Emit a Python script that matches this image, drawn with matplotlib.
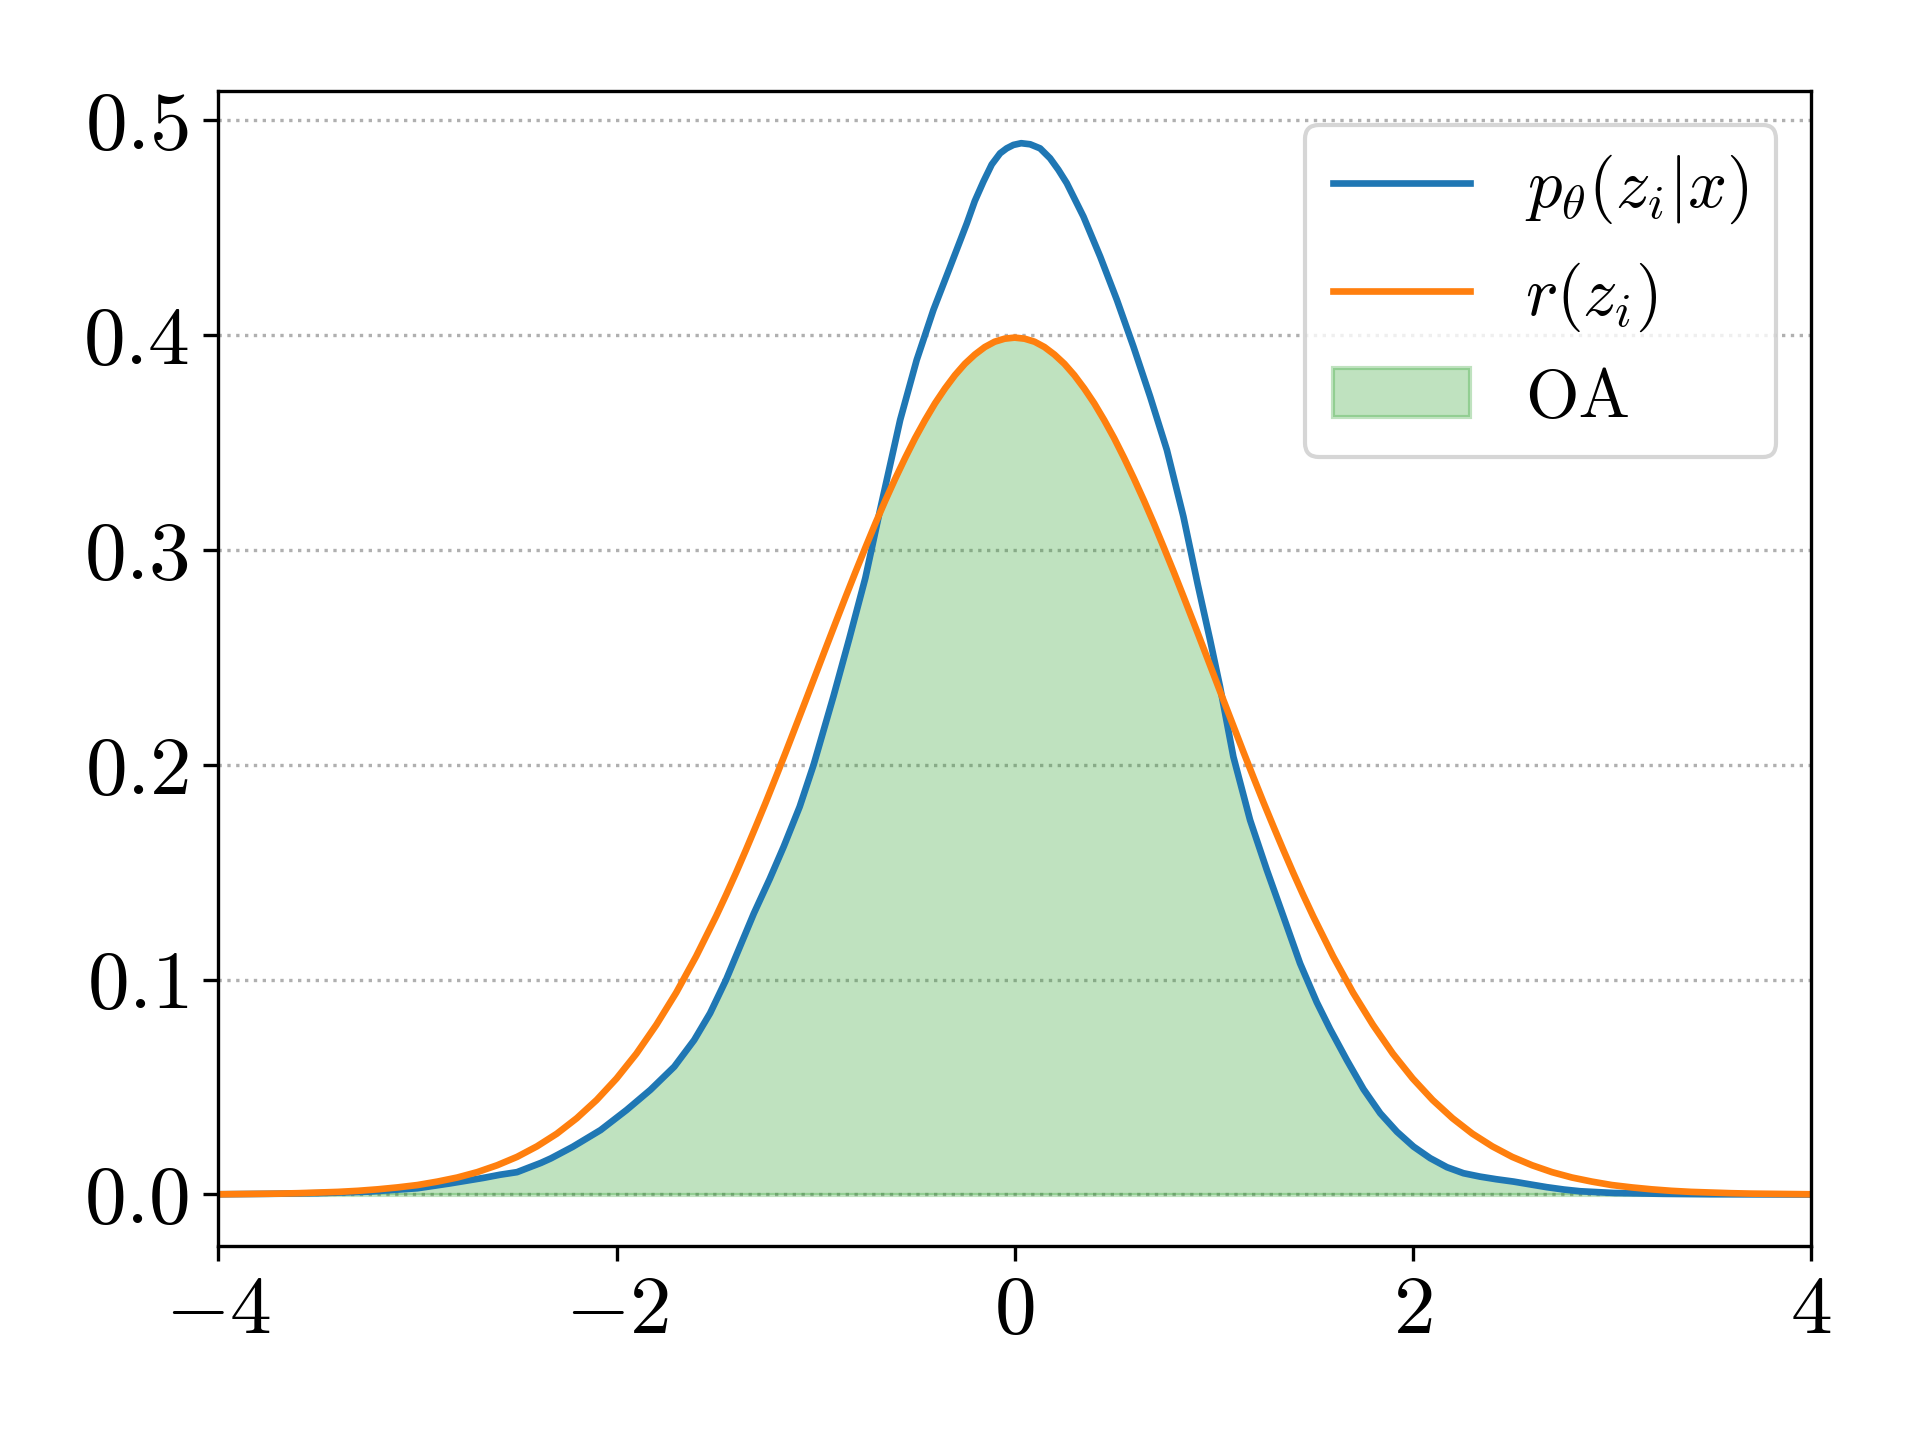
import numpy as np
import matplotlib
matplotlib.use("Agg")
import matplotlib.pyplot as plt

plt.rcParams['font.family'] = 'serif'
plt.rcParams['font.serif'] = ['cmr10']
plt.rcParams['mathtext.fontset'] = 'cm'
plt.rcParams['axes.formatter.use_mathtext'] = True
plt.rcParams['font.size'] = 20

# posterior p_theta(z_i|x)
z_post = [-4.0, -3.75, -3.5, -3.25, -3.0, -2.84, -2.67, -2.585, -2.5, -2.45,
          -2.38, -2.33, -2.22, -2.08, -1.95, -1.83, -1.71, -1.61, -1.53, -1.45,
          -1.38, -1.31, -1.23, -1.16, -1.08, -1.01, -0.91, -0.83, -0.75, -0.676,
          -0.575, -0.492, -0.408, -0.324, -0.24, -0.2, -0.157, -0.115, -0.073, -0.04,
          -0.006, 0.033, 0.078, 0.128, 0.178, 0.22, 0.262, 0.346, 0.43, 0.514,
          0.597, 0.681, 0.765, 0.848, 0.92, 0.982, 1.032, 1.099, 1.183, 1.267,
          1.351, 1.434, 1.518, 1.585, 1.669, 1.753, 1.837, 1.921, 2.004, 2.088,
          2.172, 2.255, 2.339, 2.42, 2.507, 2.59, 2.674, 2.76, 2.842, 3.009,
          3.26, 3.5, 4.0]
p_post = [0.0001, 0.0003, 0.0006, 0.0013, 0.0029, 0.0051, 0.0077, 0.0092, 0.0104, 0.0122,
          0.0147, 0.0168, 0.0222, 0.0300, 0.0393, 0.0487, 0.0595, 0.0719, 0.0844, 0.0999,
          0.1154, 0.1309, 0.1470, 0.1620, 0.1805, 0.2000, 0.2320, 0.2590, 0.2870, 0.3187,
          0.3606, 0.3885, 0.4118, 0.4319, 0.4521, 0.4625, 0.4715, 0.4795, 0.4847, 0.4870,
          0.4886, 0.4894, 0.4889, 0.4870, 0.4824, 0.4770, 0.4708, 0.4552, 0.4366, 0.4164,
          0.3947, 0.3714, 0.3466, 0.3156, 0.2840, 0.2582, 0.2364, 0.2038, 0.1743, 0.1511,
          0.1293, 0.1076, 0.0895, 0.0770, 0.0626, 0.0490, 0.0378, 0.0292, 0.0223, 0.0169,
          0.0127, 0.0099, 0.0083, 0.0071, 0.0060, 0.0047, 0.0034, 0.0023, 0.0015, 0.0007,
          0.0003, 0.0001, 0.0000]

# prior r(z_i)
z_prior = [-4.0, -3.9, -3.8, -3.7, -3.6, -3.5, -3.4, -3.3, -3.2, -3.1,
           -3.0, -2.9, -2.8, -2.7, -2.6, -2.5, -2.4, -2.3, -2.2, -2.1,
           -2.0, -1.9, -1.8, -1.7, -1.6, -1.5, -1.45, -1.4, -1.35, -1.3,
           -1.25, -1.2, -1.15, -1.1, -1.05, -1.0, -0.95, -0.9, -0.85, -0.8,
           -0.75, -0.7, -0.65, -0.6, -0.55, -0.5, -0.45, -0.4, -0.35, -0.3,
           -0.25, -0.2, -0.15, -0.1, -0.05, 0.0, 0.05, 0.1, 0.15, 0.2,
           0.25, 0.3, 0.35, 0.4, 0.45, 0.5, 0.55, 0.6, 0.65, 0.7,
           0.75, 0.8, 0.85, 0.9, 0.95, 1.0, 1.05, 1.1, 1.15, 1.2,
           1.25, 1.3, 1.35, 1.4, 1.45, 1.5, 1.6, 1.7, 1.8, 1.9,
           2.0, 2.1, 2.2, 2.3, 2.4, 2.5, 2.6, 2.7, 2.8, 2.9,
           3.0, 3.1, 3.2, 3.3, 3.4, 3.5, 3.6, 3.7, 3.8, 3.9, 4.0]
p_prior = [0.0001, 0.0002, 0.0003, 0.0004, 0.0006, 0.0009, 0.0012, 0.0017, 0.0024, 0.0033,
           0.0044, 0.0060, 0.0079, 0.0104, 0.0136, 0.0175, 0.0224, 0.0283, 0.0355, 0.0440,
           0.0540, 0.0656, 0.0790, 0.0940, 0.1109, 0.1295, 0.1394, 0.1497, 0.1604, 0.1714,
           0.1826, 0.1942, 0.2059, 0.2179, 0.2299, 0.2420, 0.2541, 0.2661, 0.2780, 0.2897,
           0.3011, 0.3123, 0.3230, 0.3332, 0.3429, 0.3521, 0.3605, 0.3683, 0.3752, 0.3814,
           0.3867, 0.3910, 0.3945, 0.3970, 0.3984, 0.3989, 0.3984, 0.3970, 0.3945, 0.3910,
           0.3867, 0.3814, 0.3752, 0.3683, 0.3605, 0.3521, 0.3429, 0.3332, 0.3230, 0.3123,
           0.3011, 0.2897, 0.2780, 0.2661, 0.2541, 0.2420, 0.2299, 0.2179, 0.2059, 0.1942,
           0.1826, 0.1714, 0.1604, 0.1497, 0.1394, 0.1295, 0.1109, 0.0940, 0.0790, 0.0656,
           0.0540, 0.0440, 0.0355, 0.0283, 0.0224, 0.0175, 0.0136, 0.0104, 0.0079, 0.0060,
           0.0044, 0.0033, 0.0024, 0.0017, 0.0012, 0.0009, 0.0006, 0.0004, 0.0003, 0.0002, 0.0001]

# overlap area = min of both curves on a shared grid
z_all = np.union1d(z_post, z_prior)
overlap = np.minimum(np.interp(z_all, z_post, p_post), np.interp(z_all, z_prior, p_prior))

fig = plt.figure(figsize=(6.4, 4.8), dpi=300)
ax = fig.add_axes([0.1138, 0.1344, 0.8293, 0.8024])

ax.plot(z_post, p_post, color='C0', lw=1.6, label=r'$p_\theta(z_i|x)$')
ax.plot(z_prior, p_prior, color='C1', lw=1.6, label=r'$r(z_i)$')
ax.fill_between(z_all, 0, overlap, color='C2', alpha=0.3, label='OA')

ax.yaxis.grid(True, linestyle=':', color='#b0b0b0', lw=0.8)
ax.set_axisbelow(True)
ax.set_xlim(-4, 4)
ax.set_ylim(-0.0242, 0.5137)
ax.set_xticks([-4, -2, 0, 2, 4])
ax.set_yticks([0.0, 0.1, 0.2, 0.3, 0.4, 0.5])
ax.legend(loc='upper right', fontsize=16.5)

fig.savefig('out.png', dpi=300)
